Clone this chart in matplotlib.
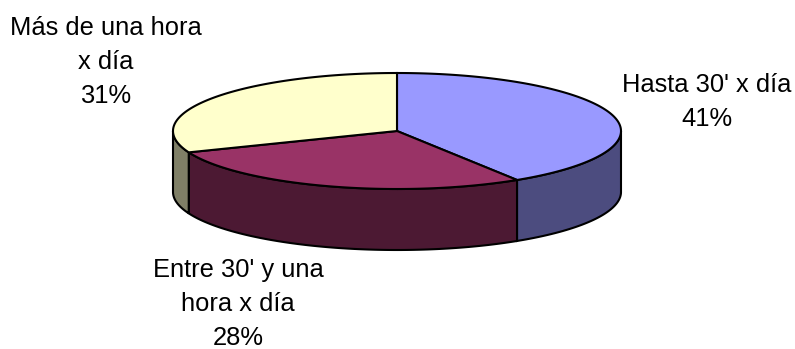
import numpy as np
import matplotlib.pyplot as plt
from matplotlib.patches import Polygon

# Data
labels = ["Hasta 30' x día", "Entre 30' y una\nhora x día", "Más de una hora\nx día"]
values = [41, 28, 31]
top_colors = ['#9999FF', '#993366', '#FFFFCC']
side_colors = ['#4C4C7F', '#4C1933', '#7F7F66']

# label anchor positions (pixels)
label_pos = [(707, 102), (238, 304), (106, 62)]

# pie geometry (pixels, y down)
cx, cy = 397, 131
rx, ry = 224, 58
depth = 61

def arc(t1, t2, dy=0):
    ts = np.radians(np.linspace(t1, t2, 120))
    return np.column_stack([cx + rx * np.cos(ts), cy - ry * np.sin(ts) + dy])

fig = plt.figure(figsize=(7.95, 3.49), dpi=100)
ax = fig.add_axes([0, 0, 1, 1])
ax.set_xlim(0, 795)
ax.set_ylim(349, 0)
ax.axis('off')

total = float(sum(values))
start = 90.0
tops = []
for i, v in enumerate(values):
    a1 = start
    a2 = start - v / total * 360.0
    # front wall: visible part between -180 and 0 degrees
    lo, hi = max(a2, -180.0), min(a1, 0.0)
    if hi > lo:
        pts = np.vstack([arc(lo, hi), arc(hi, lo, depth)])
        ax.add_patch(Polygon(pts, closed=True, facecolor=side_colors[i],
                             edgecolor='black', lw=1.5, zorder=1))
    pts = np.vstack([[cx, cy], arc(a1, a2)])
    tops.append(Polygon(pts, closed=True, facecolor=top_colors[i],
                        edgecolor='black', lw=1.5, zorder=2))
    start = a2

for p in tops:
    ax.add_patch(p)

for i, (x, y) in enumerate(label_pos):
    ax.text(x, y, labels[i] + '\n' + str(values[i]) + '%', ha='center', va='center',
            fontsize=18.4, family='Liberation Sans', linespacing=1.55)

fig.savefig('out.png', dpi=100)
